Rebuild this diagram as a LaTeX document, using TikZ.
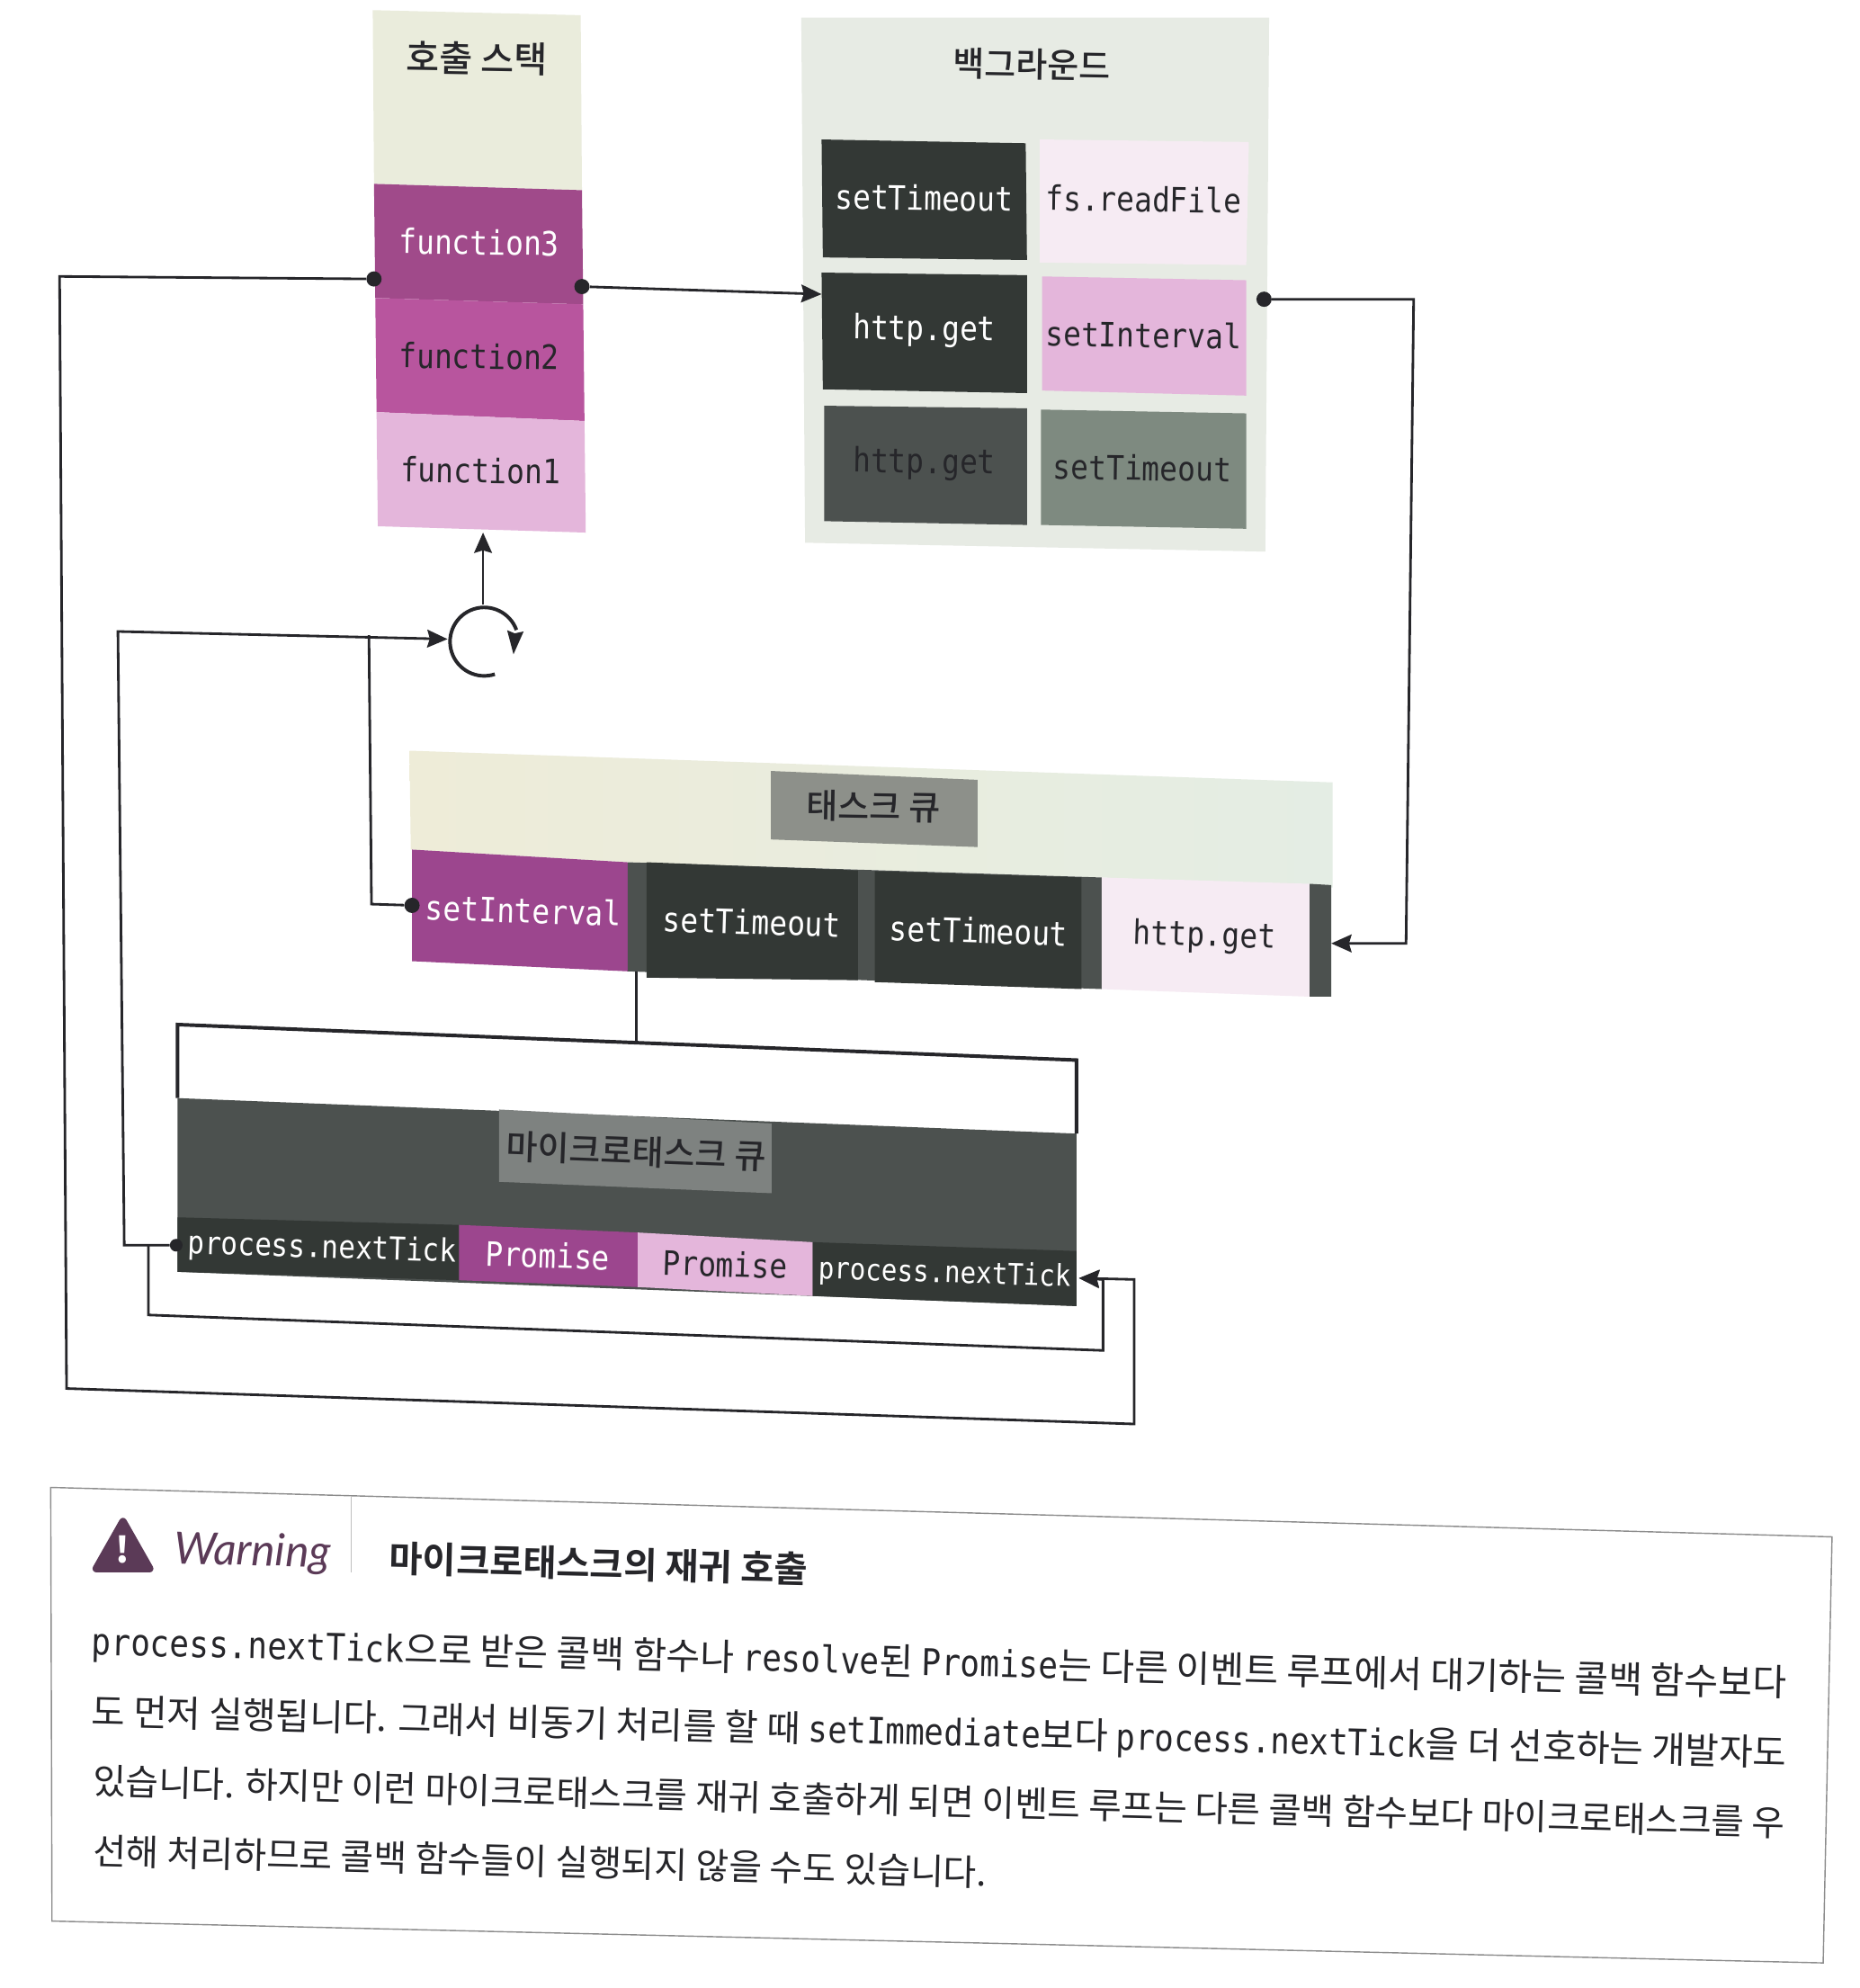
\documentclass[tikz,border=0pt]{standalone}
\usepackage{fontspec}
\usepackage{graphicx}
\usetikzlibrary{arrows.meta}
\setmonofont[FakeStretch=0.88]{DejaVu Sans Mono}
\newfontfamily\krf{Noto Sans CJK KR}
\newfontfamily\krm{Noto Sans CJK KR Medium}
\newfontfamily\krb{Noto Sans CJK KR Bold}
\newfontfamily\wrn{Lato Italic}
\definecolor{bgstack}{HTML}{EAECDC}
\definecolor{bgback}{HTML}{E7EBE4}
\definecolor{bgtaskL}{HTML}{EEECD8}
\definecolor{bgtaskR}{HTML}{E4EDE4}
\definecolor{fnA}{HTML}{A04A8A}
\definecolor{fnB}{HTML}{B8559E}
\definecolor{fnC}{HTML}{E4B6DB}
\definecolor{darkA}{HTML}{333835}
\definecolor{darkB}{HTML}{4C514F}
\definecolor{greyA}{HTML}{7E8A80}
\definecolor{greyB}{HTML}{8D908A}
\definecolor{greyC}{HTML}{7E8280}
\definecolor{lightp}{HTML}{F6EBF3}
\definecolor{purp}{HTML}{9C468E}
\definecolor{ink}{HTML}{26262A}
\definecolor{warnc}{HTML}{5B3A57}
\tikzset{
  mono/.style={font=\ttfamily\fontsize{26.5}{26.5}\selectfont,inner sep=0pt,rotate=-0.8,text=ink},
  monow/.style={mono,text=white},
  monos/.style={font=\ttfamily\fontsize{26.5}{26.5}\selectfont,inner sep=0pt,rotate=-1.8,text=ink},
  monosw/.style={monos,text=white},
  kor/.style={font=\krm\fontsize{27}{27}\selectfont,inner sep=0pt,rotate=-1,text=ink},
  conn/.style={draw=ink,line width=2pt,line join=miter},
  arr/.style={conn,-{Stealth[length=16pt,width=14pt,inset=2pt]}},
  dotn/.style={circle,fill=ink,inner sep=0pt,minimum size=12pt},
  body/.style={inner sep=0pt,anchor=base west,rotate=-1.41,text=ink},
}
\newcommand{\mn}[1]{{\ttfamily\fontsize{26}{26}\selectfont #1}}
\begin{document}
\begin{tikzpicture}[x=1pt,y=-1pt]
\useasboundingbox (0,0) rectangle (1467,1567.8);
\fill[white] (0,0) rectangle (1467,1567.8);
% call stack
\fill[bgstack] (294,8)--(458,12)--(459,150)--(295,145)--cycle;
\fill[fnA] (295,145)--(459,150)--(460,240)--(296,235)--cycle;
\fill[fnB] (296,235)--(460,240)--(461,332)--(297,325)--cycle;
\fill[fnC] (297,325)--(461,332)--(462,420)--(298,415)--cycle;
\node[kor,font=\krm\fontsize{28.5}{28.5}\selectfont] (tstack) at (376,46) {호출 스택};
\node[monow] (f3) at (378,191) {function3};
\node[mono] (f2) at (378,281) {function2};
\node[mono] (f1) at (379,371) {function1};
% background
\fill[bgback] (632,14)--(1001,14)--(998,435)--(635,428)--cycle;
\node[kor] (tback) at (814,51) {백그라운드};
\fill[darkA] (648,110)--(809,113)--(810,205)--(649,203)--cycle;
\fill[lightp] (820,110)--(985,112)--(983,209)--(820,207)--cycle;
\fill[darkA] (648,215)--(810,217)--(810,310)--(649,307)--cycle;
\fill[fnC] (822,218)--(983,221)--(983,312)--(822,308)--cycle;
\fill[darkB] (650,320)--(810,322)--(810,414)--(650,411)--cycle;
\fill[greyA] (821,323)--(983,326)--(983,417)--(821,414)--cycle;
\node[monow] (b1) at (729,156) {setTimeout};
\node[mono] (b2) at (902,157) {fs.readFile};
\node[monow] (b3) at (729,261) {http.get};
\node[mono] (b4) at (902,264) {setInterval};
\node[mono] (b5) at (729,366) {http.get};
\node[mono] (b6) at (901,369) {setTimeout};
% task queue
\shade[left color=bgtaskL,right color=bgtaskR] (323,592)--(1051,617)--(1051,700)--(869,692)--(495,680)--(324,670)--cycle;
\fill[greyB] (608,608)--(771,615)--(771,668)--(608,662)--cycle;
\node[kor] (ttask) at (689,636) {태스크 큐};
\fill[purp] (325,670)--(495,680)--(495,766)--(325,758)--cycle;
\fill[darkB] (495,680)--(869,692)--(869,780)--(495,766)--cycle;
\fill[darkA] (510,680)--(676.6,686.5)--(676.6,773)--(510,771)--cycle;
\fill[darkA] (690,687)--(853,692)--(853,780)--(690,774.5)--cycle;
\fill[lightp] (869,692)--(1033,697)--(1033,786)--(869,780)--cycle;
\fill[darkB] (1033,697)--(1050,698)--(1050,786)--(1033,786)--cycle;
\node[monosw] (q1) at (413,718) {setInterval};
\node[monosw] (q2) at (593,727) {setTimeout};
\node[monosw] (q3) at (772,734) {setTimeout};
\node[monos] (q4) at (950,739) {http.get};
% microtask queue
\fill[darkB] (140,866)--(849,894)--(849,1030)--(140,1003)--cycle;
\fill[greyC] (393.6,875)--(608.6,886)--(608.6,941)--(393.6,932)--cycle;
\node[kor,rotate=-1.2] (tmicro) at (502,908) {마이크로태스크 큐};
\fill[darkA] (140,960)--(362,966)--(362,1009.6)--(140,1003)--cycle;
\fill[purp] (362,966)--(503,972)--(503,1015)--(362,1009.6)--cycle;
\fill[fnC] (503,972)--(641,979.6)--(641,1022)--(503,1015)--cycle;
\fill[darkA] (641,979.6)--(849,986.6)--(849,1030)--(641,1022)--cycle;
\node[monosw,font=\ttfamily\fontsize{25}{25}\selectfont] (m1) at (254,985) {process.nextTick};
\node[monosw] (m2) at (432,990) {Promise};
\node[monos] (m3) at (572,997) {Promise};
\node[monosw,font=\ttfamily\fontsize{23.5}{23.5}\selectfont] (m4) at (745,1005) {process.nextTick};
% dots
\node[dotn] (d3l) at (295,220) {};
\node[dotn] (d3r) at (459,226) {};
\node[dotn] (dbk) at (997,236) {};
\node[dotn] (dsi) at (325,714) {};
\node[dotn,minimum size=10pt] (dnt) at (139,982) {};
% coordinates
\coordinate (tbk) at (648,232);
\coordinate (a1) at (47,218); \coordinate (a2) at (52.5,1095);
\coordinate (a3) at (894.5,1123); \coordinate (a4) at (894.5,1009);
\coordinate (tm4) at (851,1008);
\coordinate (b1c) at (1115,236); \coordinate (b2c) at (1109,744); \coordinate (tq) at (1050,744);
\coordinate (c1) at (98,982); \coordinate (c2) at (93,498); \coordinate (tl) at (353,504);
\coordinate (e1) at (293,713); \coordinate (e2) at (291,501);
\coordinate (g1) at (117,982); \coordinate (g2) at (117,1037); \coordinate (g3) at (870,1065); \coordinate (g4) at (870,1009);
\coordinate (h1) at (381,477); \coordinate (h2) at (381,420);
\coordinate (j1) at (502,766); \coordinate (j2) at (502,822);
\coordinate (k1) at (140,866); \coordinate (k2) at (140,808); \coordinate (k3) at (849,836); \coordinate (k4) at (849,894);
% connectors
\draw[arr] (d3l) -- (a1) -- (a2) -- (a3) -- (a4) -- (tm4);
\draw[arr] (d3r) -- (tbk);
\draw[arr] (dbk) -- (b1c) -- (b2c) -- (tq);
\draw[arr] (dnt) -- (c1) -- (c2) -- (tl);
\draw[conn] (dsi) -- (e1) -- (e2);
\draw[arr] (g1) -- (g2) -- (g3) -- (g4) -- (tm4);
\draw[arr] (h1) -- (h2);
\draw[conn,line width=2.8pt] (k1) -- (k2) -- (k3) -- (k4);
\draw[conn] (j1) -- (j2);
\draw[conn,line width=2.8pt] (390.3,531.7) arc[start angle=-72,end angle=-340,radius=27pt];
\fill[ink] (405,516) -- (400,497) -- (406,499.5) -- (413,498) -- cycle;
% warning box
\draw[line width=1pt,draw=black!45] (40,1173) -- (1445,1212) -- (1438,1548) -- (41,1515) -- cycle;
\draw[line width=1pt,draw=black!25] (277,1180) -- (277,1240);
\draw[fill=warnc,draw=warnc,line width=6pt,line join=round] (97,1200) -- (118,1237) -- (76,1237) -- cycle;
\node[text=white,font=\krf\bfseries\fontsize{28}{28}\selectfont,inner sep=0pt] (ex) at (97,1222) {!};
\node[text=warnc,font=\wrn\fontsize{35}{35}\selectfont,inner sep=0pt,rotate=-1.4] (wtxt) at (199,1225) {Warning};
\node[inner sep=0pt,anchor=west,rotate=-1.41,text=ink,font=\krb\fontsize{26}{26}\selectfont] (wt) at (307,1229) {\resizebox{330pt}{!}{마이크로태스크의 재귀 호출}};
\node[body,font=\krf\fontsize{26}{26}\selectfont] (l1) at (72,1305) {\resizebox{1337pt}{!}{\mn{process.nextTick}으로 받은 콜백 함수나 \mn{resolve}된 \mn{Promise}는 다른 이벤트 루프에서 대기하는 콜백 함수보다}};
\node[body,font=\krf\fontsize{26}{26}\selectfont] (l2) at (72,1360) {\resizebox{1337pt}{!}{도 먼저 실행됩니다. 그래서 비동기 처리를 할 때 \mn{setImmediate}보다 \mn{process.nextTick}을 더 선호하는 개발자도}};
\node[body,font=\krf\fontsize{26}{26}\selectfont] (l3) at (73,1415) {\resizebox{1335pt}{!}{있습니다. 하지만 이런 마이크로태스크를 재귀 호출하게 되면 이벤트 루프는 다른 콜백 함수보다 마이크로태스크를 우}};
\node[body,font=\krf\fontsize{26}{26}\selectfont] (l4) at (73,1470) {\resizebox{705pt}{!}{선해 처리하므로 콜백 함수들이 실행되지 않을 수도 있습니다.}};
\end{tikzpicture}
\end{document}
